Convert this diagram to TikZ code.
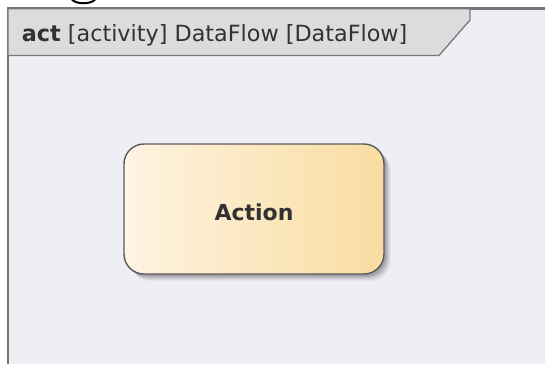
\documentclass[tikz,border=0pt]{standalone}
\usepackage{fontspec}
\setmainfont{DejaVu Sans}
\usetikzlibrary{calc}
\definecolor{framebg}{RGB}{238,238,245}
\definecolor{frameline}{RGB}{118,118,118}
\definecolor{tabfill}{RGB}{220,220,220}
\definecolor{tabline}{RGB}{120,120,120}
\definecolor{actleft}{RGB}{254,244,226}
\definecolor{actright}{RGB}{249,220,160}
\definecolor{actline}{RGB}{90,90,90}
\definecolor{txt}{RGB}{50,50,50}
\tikzset{
  actionbox/.style={draw=actline, line width=1.4pt, rounded corners=20pt,
    left color=actleft, right color=actright, minimum width=260pt,
    minimum height=130pt, inner sep=0pt, text=txt,
    font=\fontsize{22}{26}\selectfont\bfseries},
  shadowlayer/.style={fill=black, rounded corners=20pt}
}
\begin{document}
\begin{tikzpicture}[x=1pt,y=-1pt]
\useasboundingbox (0,0) rectangle (545,364);
\fill[white] (0,0) rectangle (545,364);
% fragment of text above
\draw[black, line width=2pt] (72,-0.5) .. controls (76,4.5) and (91,4.5) .. (95,-0.5);
% frame
\fill[framebg] (7,8) rectangle (545,364);
\draw[frameline, line width=2.8pt] (7.9,364) -- (7.9,8.6) -- (545,8.6);
% header tab
\draw[tabline, fill=tabfill, line width=1.3pt, line join=miter]
  (7.9,8.6) -- (470,8.6) -- (470,20) -- (439,55.5) -- (7.9,55.5) -- cycle;
\node[anchor=base west, inner sep=0pt, text=txt,
  font=\fontsize{22.3}{26}\selectfont] (header) at (21.7,41.7)
  {\textbf{act} [activity] DataFlow [DataFlow]};
% shadow of action
\foreach \o/\a in {7/0.035,6/0.045,5/0.055,4/0.065,3/0.075,2/0.085}{
  \fill[shadowlayer, opacity=\a] (124+\o,144+\o) rectangle (384+\o,274+\o);
}
\node[actionbox] (action) at (254,209) {\raisebox{-11pt}[0pt][0pt]{Action}};
\end{tikzpicture}
\end{document}
